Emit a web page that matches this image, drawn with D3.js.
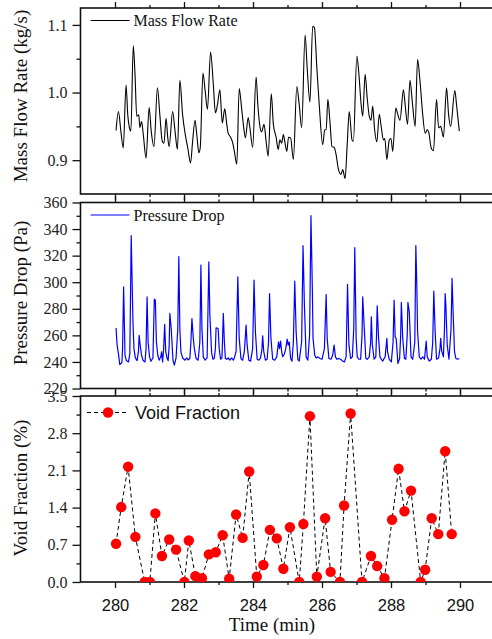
<!DOCTYPE html>
<html>
<head>
<meta charset="utf-8">
<script src="https://cdn.jsdelivr.net/npm/d3@7"></script>
<style>
  body { margin: 0; background: #fff; }
  svg { display: block; }
</style>
</head>
<body>
<svg id="chart" width="492" height="639"></svg>
<script>
// ---- Data -----------------------------------------------------------
const massTime = [280.03,280.10,280.17,280.24,280.32,280.37,280.41,280.46,280.53,280.58,280.63,280.69,280.72,280.77,280.82,280.90,280.99,281.05,281.13,281.23,281.30,281.37,281.42,281.48,281.53,281.57,281.67,281.74,281.81,281.88,281.96,282.03,282.11,282.19,282.25,282.32,282.37,282.43,282.47,282.55,282.61,282.68,282.77,282.85,282.91,282.97,283.04,283.11,283.18,283.24,283.28,283.35,283.41,283.46,283.53,283.60,283.67,283.72,283.78,283.86,283.91,283.99,284.09,284.14,284.20,284.25,284.32,284.38,284.44,284.53,284.59,284.67,284.73,284.78,284.83,284.88,284.93,284.98,285.03,285.09,285.17,285.27,285.34,285.41,285.51,285.57,285.65,285.73,285.78,285.85,285.92,286.02,286.08,286.12,286.17,286.23,286.29,286.35,286.41,286.47,286.55,286.60,286.67,286.73,286.79,286.87,286.91,287.01,287.07,287.13,287.18,287.25,287.31,287.37,287.42,287.47,287.52,287.59,287.66,287.72,287.78,287.82,287.88,287.95,288.00,288.05,288.14,288.20,288.26,288.36,288.41,288.48,288.55,288.62,288.70,288.77,288.84,288.92,288.99,289.05,289.10,289.16,289.23,289.32,289.38,289.44,289.52,289.61,289.67,289.73,289.85,289.90,289.98];
const massFlow = [0.944,0.972,0.943,0.918,1.011,0.967,0.950,0.943,1.069,1.027,0.965,0.967,0.948,0.957,0.938,0.903,0.978,0.943,0.920,1.007,0.967,0.928,0.925,0.962,0.933,0.920,0.972,0.943,0.916,1.018,0.967,0.940,0.918,0.896,0.928,0.959,0.938,0.911,0.918,1.029,1.004,0.975,1.060,1.012,0.970,0.982,1.004,0.955,0.976,0.953,0.940,0.934,0.926,0.913,0.894,1.006,0.977,0.953,0.933,0.963,0.948,0.919,1.023,0.982,0.950,0.942,0.953,0.928,0.906,0.998,0.953,0.934,0.916,0.930,0.925,0.938,0.925,0.913,0.934,0.933,0.901,1.009,0.982,0.948,1.085,1.037,0.986,1.098,1.096,1.037,0.982,0.923,0.945,0.945,0.990,0.957,0.920,0.919,0.908,0.888,0.879,0.886,0.873,0.923,0.972,0.930,0.928,1.054,1.027,0.985,0.965,1.027,0.992,0.965,0.959,0.980,0.948,0.927,0.968,0.948,0.930,0.932,0.901,0.930,0.932,0.913,0.977,0.967,0.959,1.004,0.982,0.953,1.018,0.985,0.950,1.049,1.017,0.967,0.940,0.945,0.940,0.919,0.914,0.990,0.948,0.950,0.934,1.007,0.967,0.950,1.003,0.982,0.943];

const pressureTime = [280.03,280.06,280.10,280.14,280.20,280.22,280.25,280.29,280.33,280.39,280.43,280.47,280.52,280.55,280.59,280.64,280.68,280.70,280.73,280.77,280.81,280.87,280.90,280.93,280.96,281.00,281.04,281.10,281.14,281.17,281.20,281.24,281.28,281.33,281.35,281.38,281.41,281.44,281.47,281.51,281.54,281.57,281.59,281.63,281.68,281.72,281.77,281.82,281.85,281.88,281.91,281.96,282.03,282.08,282.12,282.17,282.20,282.23,282.27,282.30,282.35,282.41,282.46,282.49,282.52,282.56,282.61,282.67,282.72,282.75,282.80,282.84,282.88,282.91,282.93,282.99,283.02,283.06,283.10,283.14,283.17,283.20,283.24,283.28,283.33,283.38,283.43,283.46,283.51,283.56,283.60,283.65,283.70,283.75,283.80,283.83,283.88,283.93,283.99,284.03,284.07,284.12,284.17,284.22,284.26,284.28,284.31,284.36,284.41,284.45,284.48,284.52,284.57,284.63,284.69,284.74,284.77,284.80,284.83,284.86,284.91,284.95,284.99,285.02,285.05,285.09,285.13,285.17,285.21,285.25,285.30,285.34,285.41,285.45,285.49,285.54,285.59,285.64,285.68,285.72,285.74,285.79,285.83,285.88,285.94,286.00,286.07,286.12,286.15,286.20,286.26,286.31,286.35,286.39,286.43,286.48,286.54,286.60,286.65,286.70,286.74,286.78,286.83,286.88,286.92,286.95,286.99,287.02,287.07,287.12,287.16,287.18,287.22,287.27,287.31,287.37,287.41,287.43,287.46,287.51,287.56,287.58,287.60,287.64,287.68,287.72,287.76,287.80,287.83,287.88,287.90,287.95,288.01,288.06,288.09,288.12,288.15,288.20,288.25,288.28,288.30,288.34,288.39,288.43,288.47,288.49,288.53,288.58,288.63,288.69,288.72,288.75,288.77,288.82,288.87,288.92,288.97,289.02,289.05,289.11,289.17,289.21,289.24,289.28,289.32,289.38,289.42,289.44,289.47,289.52,289.55,289.57,289.59,289.63,289.68,289.74,289.77,289.80,289.84,289.88,289.93,289.98];
const pressureDrop = [265.5,253,246,238,239.5,250,296.6,245,241,240,246,335,270,250,243,241,248,260,252.6,245,241.3,240,250,289,255,244,240.5,243,287.3,286.5,255,245,241.3,244,247.6,240,250,268.2,248,242.6,241,252,276.5,265,241.3,237.6,243,265,319.2,265,247.6,243,241.3,243,241.5,242.6,255,272.7,257.7,250,242.6,241.3,255,312.9,265,243.8,241.3,243,315.4,275.2,247,242,243,250,265.7,265.2,250,242,243,276.5,255,242.6,242,243,241.3,243,241.3,243,248,304.1,257.7,242.6,241.3,248,267.7,252.6,241.3,240.6,250,301.6,262.7,242,241.3,243,250,259.7,248,241.3,242,255,291.5,257.7,242,241.3,244,255.1,250,255.6,248,244,246,250,257.1,252.6,255,242.6,240.6,255,300.8,262.7,242,240.6,255,327.5,282.8,243.8,241.3,260,350.1,295.3,257.7,245,243,243.8,242.6,242,250,290.8,257.7,242.6,242,245,252.6,243.8,242,242.6,242,240.6,240,244,298.3,252.6,242.6,243.8,265,326,257.7,243.8,242,242,260,289,268,242.6,242,243.8,255,274,252.6,242,243.8,260,282.3,257.7,243.8,242,240.6,242.6,243.8,257.7,247.6,242,240,255,286.5,258.9,257.7,238.8,242.6,260,284.8,257.7,242.6,242,260,284.8,277.7,243.8,242,255,327.5,295.3,262.7,243.8,242,243.8,242,255.6,243.8,240.6,242,255,293.3,262.7,242,243,250,257.7,248,243.8,265,291.5,282.8,252.6,242,265,302.9,277.7,248,242.6,242,242.6];

const voidTime = [280.03,280.18,280.38,280.59,280.86,281.01,281.17,281.36,281.57,281.77,282.01,282.14,282.33,282.52,282.72,282.92,283.12,283.31,283.51,283.70,283.89,284.11,284.30,284.49,284.69,284.88,285.07,285.34,285.46,285.65,285.85,286.09,286.25,286.52,286.64,286.83,287.16,287.42,287.60,287.81,288.03,288.22,288.39,288.58,288.86,288.99,289.18,289.37,289.57,289.76];
const voidFraction = [0.72,1.41,2.17,0.85,0,0,1.29,0.49,0.80,0.61,0,0.78,0.11,0.07,0.52,0.56,0.88,0.06,1.27,0.83,2.08,0.10,0.32,0.98,0.82,0.25,1.03,0,1.09,3.12,0.10,1.20,0.19,0,1.44,3.17,0,0.49,0.30,0.07,1.17,2.13,1.33,1.72,0,0.23,1.20,0.90,2.46,0.90];

// Tick values
const timeMajor = [280, 282, 284, 286, 288, 290];
const timeMinor = [281, 283, 285, 287, 289];
const massMajor = [0.9, 1.0, 1.1];
const massMinor = [0.95, 1.05];
const pressureMajor = [220, 240, 260, 280, 300, 320, 340, 360];
const pressureMinor = [230, 250, 270, 290, 310, 330, 350];
const voidMajor = [0.0, 0.7, 1.4, 2.1, 2.8, 3.5];
const voidMinor = [0.35, 1.05, 1.75, 2.45, 3.15];

// ---- Layout ---------------------------------------------------------
const SERIF = "'Liberation Serif', 'Times New Roman', serif";
const SANS = "'Liberation Sans', Arial, sans-serif";
const svg = d3.select("#chart");
const x = d3.scaleLinear().domain([279, 291]).range([80.5, 494.5]);

function panel(opts) {
  const { top, bottom, domain, major, minor, fmt, title, titleY, id } = opts;
  const y = d3.scaleLinear().domain(domain).range([bottom, top]);
  const g = svg.append("g");

  g.append("clipPath").attr("id", id)
    .append("rect").attr("x", x.range()[0]).attr("y", top)
    .attr("width", x.range()[1] - x.range()[0]).attr("height", bottom - top);

  // minor and major y ticks (outward)
  g.append("g").attr("transform", `translate(${x.range()[0]},0)`)
    .call(d3.axisLeft(y).tickValues(minor).tickSize(4).tickFormat(""));
  const yMajor = g.append("g").attr("transform", `translate(${x.range()[0]},0)`)
    .call(d3.axisLeft(y).tickValues(major).tickSize(8).tickPadding(5).tickFormat(fmt));
  yMajor.selectAll("text").style("font-family", SERIF).style("font-size", "16px").attr("fill", "#222");

  // time ticks on top and bottom edges
  [[d3.axisTop, top], [d3.axisBottom, bottom]].forEach(([ax, pos]) => {
    g.append("g").attr("transform", `translate(0,${pos})`)
      .call(ax(x).tickValues(timeMinor).tickSize(3).tickFormat(""));
    g.append("g").attr("transform", `translate(0,${pos})`)
      .call(ax(x).tickValues(timeMajor).tickSize(6).tickFormat(""));
  });

  g.selectAll(".domain").remove();
  g.selectAll(".tick line").attr("stroke", "#111").attr("stroke-width", 1.3);

  // frame
  g.append("rect")
    .attr("x", x.range()[0]).attr("y", top)
    .attr("width", x.range()[1] - x.range()[0]).attr("height", bottom - top)
    .attr("fill", "none").attr("stroke", "#111").attr("stroke-width", 1.6);

  // axis title
  g.append("text")
    .attr("transform", `translate(26.5,${titleY}) rotate(-90)`)
    .attr("text-anchor", "middle")
    .style("font-family", SERIF).style("font-size", "19px").attr("fill", "#111")
    .text(title);

  return { g, y };
}

// ---- Mass flow rate -------------------------------------------------
const p1 = panel({ id: "clip1", top: 8, bottom: 194, domain: [0.85, 1.125],
  major: massMajor, minor: massMinor, fmt: d3.format(".1f"),
  title: "Mass Flow Rate (kg/s)", titleY: 96 });
const massData = massTime.map((t, i) => [t, massFlow[i]]);
p1.g.append("path").datum(massData)
  .attr("clip-path", "url(#clip1)")
  .attr("fill", "none").attr("stroke", "#000").attr("stroke-width", 1.1)
  .attr("stroke-linejoin", "round")
  .attr("d", d3.line().x(d => x(d[0])).y(d => p1.y(d[1])).curve(d3.curveMonotoneX));
p1.g.append("line").attr("x1", 90.5).attr("x2", 129.5).attr("y1", 20.5).attr("y2", 20.5)
  .attr("stroke", "#000").attr("stroke-width", 1.2);
p1.g.append("text").attr("x", 133.5).attr("y", 26)
  .style("font-family", SERIF).style("font-size", "16px").attr("fill", "#111")
  .text("Mass Flow Rate");

// ---- Pressure drop --------------------------------------------------
const p2 = panel({ id: "clip2", top: 202.5, bottom: 388.5, domain: [220, 360],
  major: pressureMajor, minor: pressureMinor, fmt: d3.format("d"),
  title: "Pressure Drop (Pa)", titleY: 293 });
const pressureData = pressureTime.map((t, i) => [t, pressureDrop[i]]);
p2.g.append("path").datum(pressureData)
  .attr("clip-path", "url(#clip2)")
  .attr("fill", "none").attr("stroke", "#0000ff").attr("stroke-width", 1.2)
  .attr("stroke-linejoin", "round")
  .attr("d", d3.line().x(d => x(d[0])).y(d => p2.y(d[1])));
p2.g.append("line").attr("x1", 90.5).attr("x2", 129.5).attr("y1", 215).attr("y2", 215)
  .attr("stroke", "#0000ff").attr("stroke-width", 1.2);
p2.g.append("text").attr("x", 133.5).attr("y", 220.5)
  .style("font-family", SERIF).style("font-size", "16px").attr("fill", "#111")
  .text("Pressure Drop");

// ---- Void fraction --------------------------------------------------
const p3 = panel({ id: "clip3", top: 396, bottom: 582, domain: [0, 3.5],
  major: voidMajor, minor: voidMinor, fmt: d3.format(".1f"),
  title: "Void Fraction (%)", titleY: 488 });
const voidData = voidTime.map((t, i) => [t, voidFraction[i]]);
p3.g.append("path").datum(voidData)
  .attr("clip-path", "url(#clip3)")
  .attr("fill", "none").attr("stroke", "#000").attr("stroke-width", 1)
  .attr("stroke-dasharray", "4,3")
  .attr("d", d3.line().x(d => x(d[0])).y(d => p3.y(d[1])));
p3.g.append("g").attr("clip-path", "url(#clip3)")
  .selectAll("circle").data(voidData).join("circle")
  .attr("cx", d => x(d[0])).attr("cy", d => p3.y(d[1])).attr("r", 5.2)
  .attr("fill", "#ff0000");

// bottom time labels
p3.g.append("g").attr("transform", "translate(0,582)")
  .call(d3.axisBottom(x).tickValues(timeMajor).tickSize(6).tickPadding(11.5).tickFormat(d3.format("d")))
  .call(a => a.select(".domain").remove())
  .call(a => a.selectAll("line").remove())
  .selectAll("text").style("font-family", SANS).style("font-size", "16.5px").attr("fill", "#111");

// legend
p3.g.append("line").attr("x1", 87).attr("x2", 128).attr("y1", 412.5).attr("y2", 412.5)
  .attr("stroke", "#000").attr("stroke-width", 1).attr("stroke-dasharray", "4,3");
p3.g.append("circle").attr("cx", 108).attr("cy", 412.5).attr("r", 5.2).attr("fill", "#ff0000");
p3.g.append("text").attr("x", 135).attr("y", 419)
  .style("font-family", SANS).style("font-size", "18px").attr("fill", "#111")
  .text("Void Fraction");

// x-axis title
svg.append("text").attr("x", 272).attr("y", 630.5).attr("text-anchor", "middle")
  .style("font-family", SERIF).style("font-size", "19px").attr("fill", "#111")
  .text("Time (min)");
</script>
</body>
</html>
